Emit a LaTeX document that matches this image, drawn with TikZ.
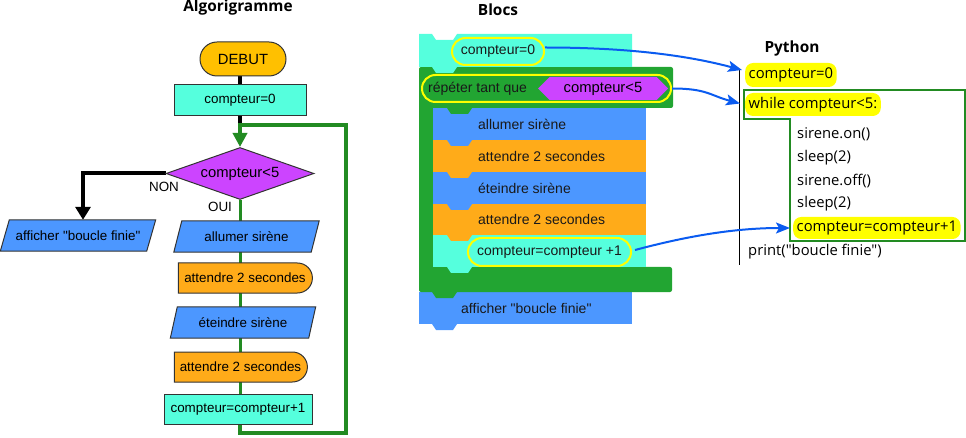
\documentclass[tikz,border=0pt]{standalone}
\usepackage{fontspec}
\setmainfont{Liberation Sans}[Ligatures=TeXOff]
\newfontfamily\pyfont{Open Sans}[Ligatures=TeXOff]
\usetikzlibrary{shapes.geometric,shapes.misc,shapes.symbols,arrows.meta,backgrounds}
\definecolor{cAqua}{HTML}{55FFDD}
\definecolor{cGold}{HTML}{FFC000}
\definecolor{cPurple}{HTML}{CC44FF}
\definecolor{cBlue}{HTML}{4C97FF}
\definecolor{cOrange}{HTML}{FFAB19}
\definecolor{cLoop}{HTML}{228B22}
\definecolor{cBlock}{HTML}{22A532}
\definecolor{cArrow}{HTML}{0A5BF0}
\definecolor{cHi}{HTML}{FFFF00}
\definecolor{cStroke}{HTML}{333333}
\newcommand\blocktab[3]{\fill[#1] (#2,#3) -- ++(25,0) -- ++(-4,6) -- ++(-17,0) -- cycle;}
\tikzset{
  fc/.style={font=\fontsize{13.4}{15}\selectfont, inner sep=0, text=black},
  fcbig/.style={font=\fontsize{14.8}{17}\selectfont, inner sep=0, text=black},
  title/.style={font=\pyfont\bfseries\fontsize{15.4}{18}\selectfont, inner sep=0},
  startbox/.style={rounded rectangle, draw=cStroke, line width=1, fill=cGold, minimum width=86, minimum height=34, fcbig},
  procbox/.style={rectangle, draw=cStroke, line width=1, fill=cAqua, fc},
  decbox/.style={diamond, aspect=2.85, draw=cStroke, line width=1, fill=cPurple, minimum width=148, minimum height=52, fcbig},
  iobox/.style={rectangle, minimum height=31, fc},
  delaybox/.style={rounded rectangle, rounded rectangle left arc=none, draw=cStroke, line width=1, fill=cOrange, minimum height=30, fc},
  bt/.style={font=\fontsize{14}{16}\selectfont, inner sep=0, text=black!90},
  ovalsty/.style={rounded rectangle, draw=cHi, line width=2, inner sep=0, bt},
  pyt/.style={font=\pyfont\fontsize{14.8}{17}\selectfont, inner sep=0},
  pyhl/.style={pyt, fill=cHi, rounded corners=8, inner xsep=3.5, inner ysep=0},
  bluearrow/.style={cArrow, line width=2, -{Stealth[length=14,width=11,inset=3]}},
}
\begin{document}
\begin{tikzpicture}[x=1pt,y=-1pt]
\useasboundingbox (0,0) rectangle (966,438);

% titles
\node[title] (t1) at (238,8) {Algorigramme};
\node[title] (t2) at (498,10) {Blocs};
\node[title] (t3) at (792,49) {Python};

% ---------- flowchart ----------
\node[startbox] (debut) at (243,59) {DEBUT};
\node[procbox, minimum width=132, minimum height=31] (init) at (240,100.5) {compteur=0};
\node[decbox] (cond) at (240,173.5) {compteur<5};
\node[iobox, minimum width=146] (fin) at (78,235.5) {afficher "boucle finie"};
\node[iobox, minimum width=137] (allum) at (246.5,236.5) {allumer sirène};
\node[delaybox, minimum width=134] (att1) at (245,278) {attendre 2 secondes};
\node[iobox, minimum width=138] (etein) at (243,322.5) {éteindre sirène};
\node[delaybox, minimum width=133] (att2) at (240.5,367) {attendre 2 secondes};
\node[procbox, minimum width=148, minimum height=30] (incr) at (238,409) {compteur=compteur+1};
\node[fc] (non) at (164,187) {NON};
\node[fc] (oui) at (220,207) {OUI};
\coordinate (join) at (240,125);
\coordinate (lbl) at (240,433);
\coordinate (lbr) at (346,433);
\coordinate (ltr) at (346,125);

\begin{scope}[on background layer]
  \draw[black, line width=4] (debut.south -| init.north) -- (init.north);
  \draw[black, line width=4] (init.south) -- (join);
  \draw[cLoop, line width=3] (cond.south) -- (cond.south |- incr.north);
  \draw[cLoop, line width=4, -{Triangle[width=14,length=14]}]
     (cond.south |- incr.south) -- (lbl) -- (lbr) -- (ltr) -- (join) -- (cond.north);
  \draw[black, line width=4, -{Triangle[width=15,length=13]}] (cond.west) -| ([xshift=5]fin.north);
  \foreach \n/\s in {fin/4.5, allum/4, etein/3.5}
    \draw[draw=cStroke, line width=1, fill=cBlue]
      ([xshift=-\s]\n.south west) -- ([xshift=\s]\n.north west) --
      ([xshift=\s]\n.north east) -- ([xshift=-\s]\n.south east) -- cycle;
\end{scope}

% ---------- blocks ----------
\fill[cBlue] (419,292) rectangle (632,324);
\fill[cBlock, rounded corners=2] (419,67) -- (673,67) -- (673,108) -- (433,108) -- (433,267)
   -- (672,267) -- (672,292) -- (419,292) -- cycle;
\fill[cAqua] (419,34) -- (432,34) -- (436,40) -- (453,40) -- (457,34) -- (632,34)
   -- (632,67) -- (419,67) -- cycle;
\fill[cBlue] (433,108) rectangle (646,140);
\fill[cOrange] (433,140) rectangle (646,172);
\fill[cBlue] (433,172) rectangle (646,204);
\fill[cOrange] (433,204) rectangle (646,235);
\fill[cAqua] (433,235) rectangle (646,267);
\blocktab{cAqua}{432}{67}
\blocktab{cBlock}{447}{108}
\blocktab{cBlue}{447}{140}
\blocktab{cOrange}{447}{172}
\blocktab{cBlue}{447}{204}
\blocktab{cOrange}{447}{235}
\blocktab{cAqua}{447}{267}
\blocktab{cBlock}{432}{292}
\blocktab{cBlue}{432}{324}

\node[ovalsty, minimum width=92, minimum height=27] (cz) at (498,51.5) {compteur=0};
\node[ovalsty, minimum width=249, minimum height=27] (rep) at (546.5,88.5) {};
\node[bt, anchor=west] (reptxt) at (428,88.5) {répéter tant que};
\node[signal, signal to=west and east, signal pointer angle=90, fill=cPurple,
      minimum width=130, minimum height=23, inner sep=0,
      font=\fontsize{14.8}{17}\selectfont] (hex) at (603,88.5) {compteur<5};
\node[bt, anchor=west] (b1) at (478,124) {allumer sirène};
\node[bt, anchor=west] (b2) at (478,156) {attendre 2 secondes};
\node[bt, anchor=west] (b3) at (478,188) {éteindre sirène};
\node[bt, anchor=west] (b4) at (478,219.5) {attendre 2 secondes};
\node[ovalsty, minimum width=163, minimum height=28] (ci) at (549.5,252) {compteur=compteur +1};
\node[bt, anchor=west] (b6) at (461,308) {afficher "boucle finie"};

% ---------- python ----------
\draw[black, line width=1] (739,70) -- (739,265);
\node[pyhl, anchor=west, minimum height=24] (p1) at (745,75) {compteur=0};
\node[pyhl, anchor=west, minimum height=23] (p2) at (745,104.5) {while compteur<5:};
\draw[cLoop, line width=2] (744,90) -- (965,90) -- (965,241) -- (790,241) -- (790,119) -- (744,119) -- cycle;
\node[pyt, anchor=west] (p3) at (797,134) {sirene.on()};
\node[pyt, anchor=west] (p4) at (797,158) {sleep(2)};
\node[pyt, anchor=west] (p5) at (797,181) {sirene.off()};
\node[pyt, anchor=west] (p6) at (797,204) {sleep(2)};
\node[pyhl, anchor=west, minimum height=22] (p7) at (793,228) {compteur=compteur+1};
\node[pyt, anchor=west] (p8) at (748,252) {print("boucle finie")};

% ---------- blue arrows ----------
\draw[bluearrow] ([yshift=4]cz.east) .. controls +(95,0) and +(-45,-12) .. ([xshift=-3,yshift=5]p1.west);
\draw[bluearrow] (rep.east) .. controls +(35,0) and +(-30,-8) .. ([xshift=-5,yshift=1]p2.west);
\draw[bluearrow] ([xshift=3,yshift=2]ci.east) .. controls +(45,-12) and +(-60,0) .. ([xshift=-3]p7.west);
\end{tikzpicture}
\end{document}
